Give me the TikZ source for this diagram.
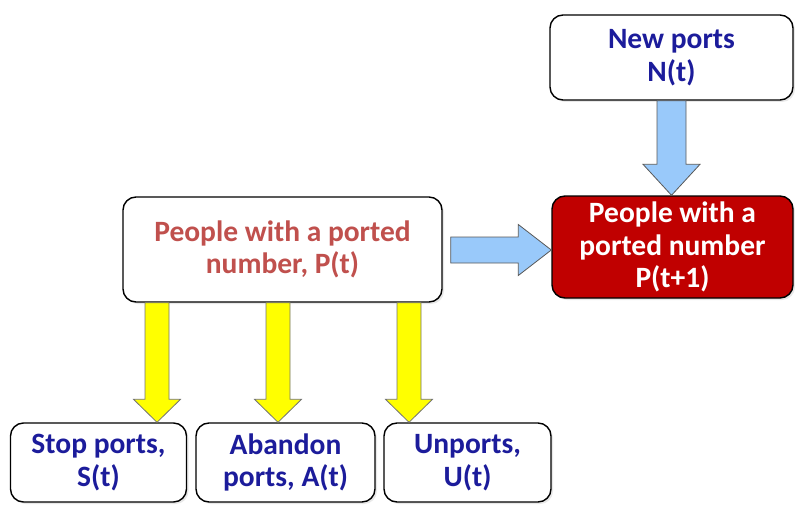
\documentclass[tikz,border=0pt]{standalone}
\usepackage{fontspec}
\setmainfont{Carlito}
\usetikzlibrary{positioning,calc,shadows}
\definecolor{navytext}{RGB}{28,28,155}
\definecolor{porttext}{RGB}{192,80,77}
\definecolor{portred}{RGB}{192,0,0}
\definecolor{flowblue}{RGB}{153,201,250}
\definecolor{flowyellow}{RGB}{255,255,0}

\begin{document}
\begin{tikzpicture}[x=1pt,y=1pt,
  box/.style={draw,line width=1.4pt,rounded corners=13pt,fill=white,align=center,
              font=\fontsize{29.5}{32.5}\selectfont\bfseries,text=navytext,inner sep=2pt,
              drop shadow={opacity=0.18,shadow xshift=2pt,shadow yshift=-2pt}},
  stock/.style={box,text=porttext},
  next/.style={box,fill=portred,text=white},
  outbox/.style={box,minimum height=79pt},
  downflow/.style n args={3}{to path={let \p1=(\tikztostart),\p2=(\tikztotarget) in
      (\x1-#1,\y1) -- (\x1-#1,\y2+#3) -- (\x1-#2,\y2+#3) -- (\x1,\y2)
      -- (\x1+#2,\y2+#3) -- (\x1+#1,\y2+#3) -- (\x1+#1,\y1) -- cycle}},
  rightflow/.style n args={3}{to path={let \p1=(\tikztostart),\p2=(\tikztotarget) in
      (\x1,\y1+#1) -- (\x2-#3,\y1+#1) -- (\x2-#3,\y1+#2) -- (\x2,\y1)
      -- (\x2-#3,\y1-#2) -- (\x2-#3,\y1-#1) -- (\x1,\y1-#1) -- cycle}},
  blueflow/.style={draw=black!65,line width=0.8pt,fill=flowblue,line join=miter},
  yellowflow/.style={draw=black!55,line width=0.8pt,fill=flowyellow,line join=miter}
]
\useasboundingbox (0,0) rectangle (795,507);

\node[box,minimum width=243pt,minimum height=85pt] (new) at (671.5,449.5) {New ports\\N(t)};
\node[next,minimum width=241pt,minimum height=102pt] (pnext) at (672.5,260) {People with a\\ported number\\P(t+1)};
\node[stock,minimum width=319pt,minimum height=105pt] (pnow) at (282.5,257.5) {People with a ported\\number, P(t)};

\node[outbox,minimum width=176pt] (stop) at (98.5,44.5)  {Stop ports,\\S(t)};
\node[outbox,minimum width=179pt] (aban) at (285.5,44.5) {Abandon\\ports, A(t)};
\node[outbox,minimum width=167pt] (unp)  at (467.5,44.5) {Unports,\\U(t)};

\draw[blueflow,downflow={14.5pt}{28.5pt}{31pt}] (new.south) to (pnext.north);
\draw[blueflow,rightflow={13pt}{25.5pt}{33pt}] ([xshift=8pt,yshift=-0.5pt]pnow.east) to (pnext.west);

\draw[yellowflow,downflow={12pt}{23.5pt}{23pt}] ([xshift=-125.5pt]pnow.south) to (stop.north);
\draw[yellowflow,downflow={12pt}{23.5pt}{23pt}] ([xshift=-4.5pt]pnow.south) to (aban.north);
\draw[yellowflow,downflow={12pt}{23.5pt}{23pt}] ([xshift=126.5pt]pnow.south) to (unp.north);
\end{tikzpicture}
\end{document}
